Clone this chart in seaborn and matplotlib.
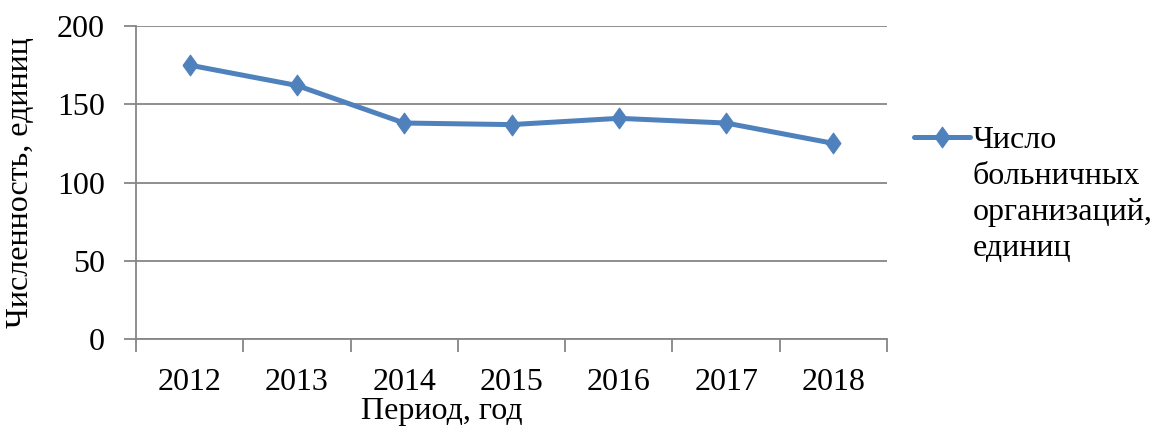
import matplotlib
matplotlib.use("Agg")
import matplotlib.pyplot as plt
import seaborn as sns
import pandas as pd

years = ["2012", "2013", "2014", "2015", "2016", "2017", "2018"]
values = [175, 162, 138, 137, 141, 138, 125]
series_name = "Число\nбольничных\nорганизаций,\nединиц"
y_ticks = [0, 50, 100, 150, 200]

sns.set_theme(style="white")
plt.rcParams['font.family'] = ['Liberation Serif', 'DejaVu Serif']
plt.rcParams['text.color'] = 'black'

df = pd.DataFrame({"year": years, "value": values})

fig = plt.figure(figsize=(11.56, 4.29), dpi=100)
ax = fig.add_axes([136/1156, 1-339/429, (887-136)/1156, (339-26)/429])

diamond = [(-0.36, 0), (0, 0.5), (0.36, 0), (0, -0.5), (-0.36, 0)]
sns.lineplot(data=df, x="year", y="value", ax=ax, color="#4F81BD",
             linewidth=3.6, marker=diamond, markersize=15,
             markeredgecolor="#4F81BD", label=series_name, sort=False)

gray = "#868686"
FS = 23
ax.set_xlim(-0.5, len(years) - 0.5)
ax.set_ylim(0, 200)
ax.set_yticks(y_ticks)
ax.yaxis.grid(True, color=gray, linewidth=1.3)
ax.set_axisbelow(True)
for s in ["top", "right"]:
    ax.spines[s].set_visible(False)
for s in ["left", "bottom"]:
    ax.spines[s].set_color(gray)
    ax.spines[s].set_linewidth(1.3)

ax.set_xticks(range(len(years)))
ax.set_xticklabels(years)
ax.set_xticks([i - 0.5 for i in range(len(years) + 1)], minor=True)
ax.tick_params(axis="x", which="major", bottom=True, length=0, pad=21,
               labelsize=FS, labelcolor="black")
ax.tick_params(axis="x", which="minor", bottom=True, length=9, width=1.3,
               color=gray, direction="out")
ax.tick_params(axis="y", which="major", left=True, length=9, width=1.3, color=gray,
               direction="out", labelsize=FS, labelcolor="black", pad=13.5)

ax.set_xlabel("")
ax.set_ylabel("Численность, единиц", fontsize=FS, labelpad=16, color="black")
fig.text(442/1156, 1-412/429, "Период, год", fontsize=FS, ha="center", va="center",
         color="black")

leg = ax.legend(loc="upper left", bbox_to_anchor=(914/1156, 1-126/429),
                bbox_transform=fig.transFigure, frameon=False, fontsize=FS,
                handlelength=1.75, handletextpad=0.08, borderaxespad=0,
                borderpad=0, labelspacing=0)
for t in leg.get_texts():
    t.set_linespacing(1.32)
    t.set_color("black")
for col in leg._legend_handle_box.get_children():
    for hp in col.get_children():
        hp.align = "top"

fig.savefig("out.png", dpi=100)
